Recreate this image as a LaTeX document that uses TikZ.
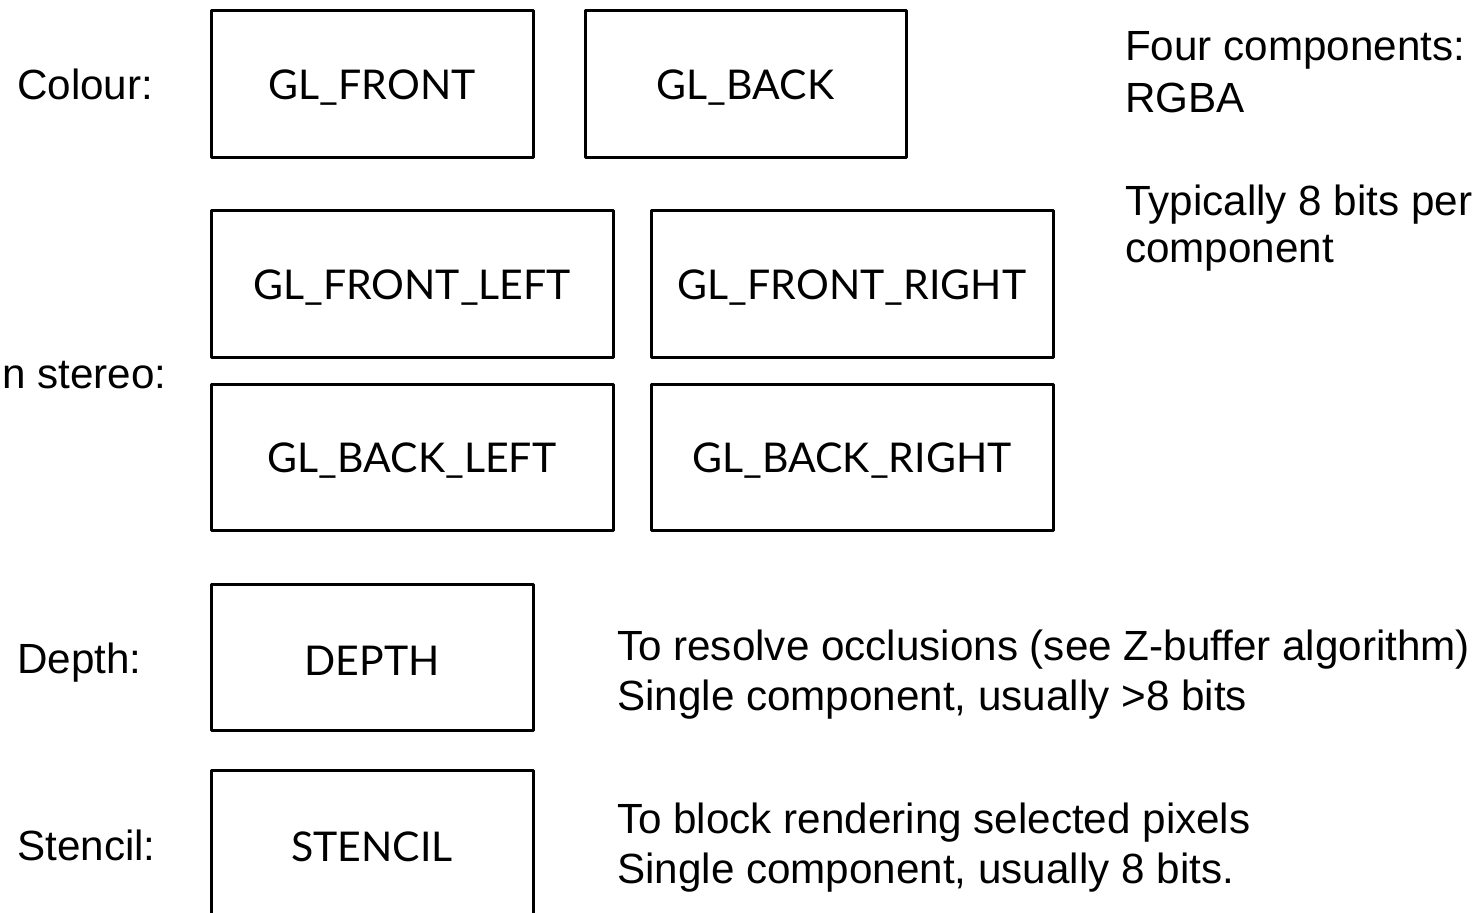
\documentclass[tikz,border=0pt]{standalone}
\usepackage{fontspec}
\setmainfont{Liberation Sans}
\newfontfamily\boxfont{Lato}
\begin{document}
\begin{tikzpicture}[x=1pt,y=-1pt,
  buf/.style={draw=black,line width=3pt,line join=round,inner sep=0pt},
  lab/.style={anchor=base west,inner sep=0pt,font=\fontsize{42.2}{48}\selectfont},
  btxt/.style={inner sep=0pt,yshift=-4pt,font=\boxfont\fontsize{41}{47}\selectfont}]
\useasboundingbox (0,0) rectangle (1478,913);
\clip (0,0) rectangle (1478,913);
% boxes
\draw[buf] (211,10) rectangle (533,157) node[btxt,midway] (front) {GL\_FRONT};
\draw[buf] (585,10) rectangle (906,157) node[btxt,midway] (back) {GL\_BACK};
\draw[buf] (211,210) rectangle (613,357) node[btxt,midway] (fl) {GL\_FRONT\_LEFT};
\draw[buf] (651,210) rectangle (1053,357) node[btxt,midway] (fr) {GL\_FRONT\_RIGHT};
\draw[buf] (211,384) rectangle (613,530) node[btxt,midway] (bl) {GL\_BACK\_LEFT};
\draw[buf] (651,384) rectangle (1053,530) node[btxt,midway] (br) {GL\_BACK\_RIGHT};
\draw[buf] (211,584) rectangle (533,730) node[btxt,midway] (depth) {DEPTH};
\draw[buf] (211,770) rectangle (533,918);
\node[btxt] (stencil) at (372,843) {STENCIL};
% left labels
\node[lab] (lc) at (17,99) {Colour:};
\node[lab] (ls) at (2,388) {n stereo:};
\node[lab] (ld) at (17,673) {Depth:};
\node[lab] (lst) at (17,860) {Stencil:};
% right texts
\node[lab] (t1) at (1125,60) {Four components:};
\node[lab] (t2) at (1125,112) {RGBA};
\node[lab] (t3) at (1125,215) {Typically 8 bits per};
\node[lab] (t4) at (1125,262) {component};
\node[lab] (d1) at (617,660) {To resolve occlusions (see Z-buffer algorithm)};
\node[lab] (d2) at (617,710) {Single component, usually >8 bits};
\node[lab] (s1) at (617,833) {To block rendering selected pixels};
\node[lab] (s2) at (617,883) {Single component, usually 8 bits.};
\end{tikzpicture}
\end{document}
